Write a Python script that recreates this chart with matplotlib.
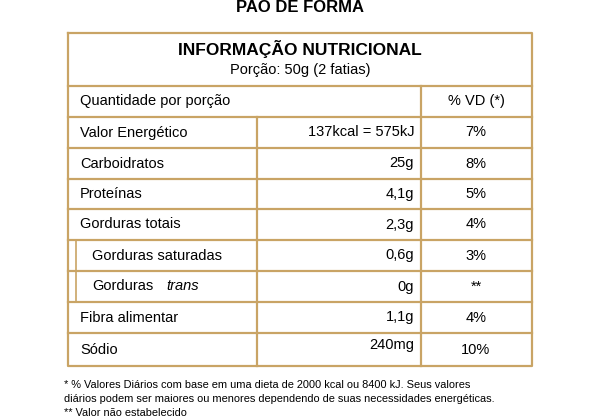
import matplotlib.pyplot as plt

nutrients = ['Valor Energético', 'Carboidratos', 'Proteínas', 'Gorduras totais',
             'Gorduras saturadas', 'Gorduras trans', 'Fibra alimentar', 'Sódio']
amounts = ['137kcal = 575kJ', '25g', '4,1g', '2,3g', '0,6g', '0g', '1,1g', '240mg']
vd = ['7%', '8%', '5%', '4%', '3%', '**', '4%', '10%']
indented = [False, False, False, False, True, True, False, False]

row_edges = [86, 117, 148, 179, 209, 240, 271, 302, 333, 366]
gold = '#c9a465'
font = 'Liberation Sans'
fs = 10.5

fig = plt.figure(figsize=(6, 4.2), dpi=100)
ax = fig.add_axes([0, 0, 1, 1])
ax.set_xlim(0, 600)
ax.set_ylim(420, 0)
ax.axis('off')

L, R, T, B = 68, 532, 33, 366
ax.plot([L, R, R, L, L], [T, T, B, B, T], color=gold, lw=1.6)
for y in row_edges[:-1]:
    ax.plot([L, R], [y, y], color=gold, lw=1.6)
ax.plot([421, 421], [86, B], color=gold, lw=1.6)
ax.plot([257, 257], [117, B], color=gold, lw=1.6)
ax.plot([76, 76], [240, 302], color=gold, lw=1.2)

ax.text(300, 7, 'PAO DE FORMA', ha='center', va='center', fontsize=12,
        fontweight='bold', family=font)
ax.text(300, 49, 'INFORMAÇÃO NUTRICIONAL', ha='center', va='center',
        fontsize=12.5, fontweight='bold', family=font)
ax.text(300, 70, 'Porção: 50g (2 fatias)', ha='center', va='center',
        fontsize=fs, family=font)
ax.text(80, 101.5, 'Quantidade por porção', va='center', fontsize=fs, family=font)
ax.text(476, 101.5, '% VD (*)', ha='center', va='center', fontsize=fs, family=font)

for i, name in enumerate(nutrients):
    yc = (row_edges[i + 1] + row_edges[i + 2]) / 2
    x0 = 92 if indented[i] else 80
    if name == 'Gorduras trans':
        ax.text(x0, yc, 'Gorduras', va='center', fontsize=fs, family=font)
        ax.text(x0 + 74, yc, 'trans', va='center', fontsize=fs, family=font,
                style='italic')
    else:
        ax.text(x0, yc, name, va='center', fontsize=fs, family=font)
    ax.text(414, yc if i < 7 else yc - 5, amounts[i], ha='right', va='center',
            fontsize=fs, family=font)
    ax.text(476, yc, vd[i], ha='center', va='center', fontsize=fs, family=font)

ax.text(64, 385, '* % Valores Diários com base em uma dieta de 2000 kcal ou 8400 kJ. Seus valores',
        va='center', fontsize=7.9, family=font)
ax.text(64, 399, 'diários podem ser maiores ou menores dependendo de suas necessidades energéticas.',
        va='center', fontsize=7.9, family=font)
ax.text(64, 413, '** Valor não estabelecido', va='center', fontsize=7.9, family=font)

fig.savefig('out.png', dpi=100, facecolor='white')
